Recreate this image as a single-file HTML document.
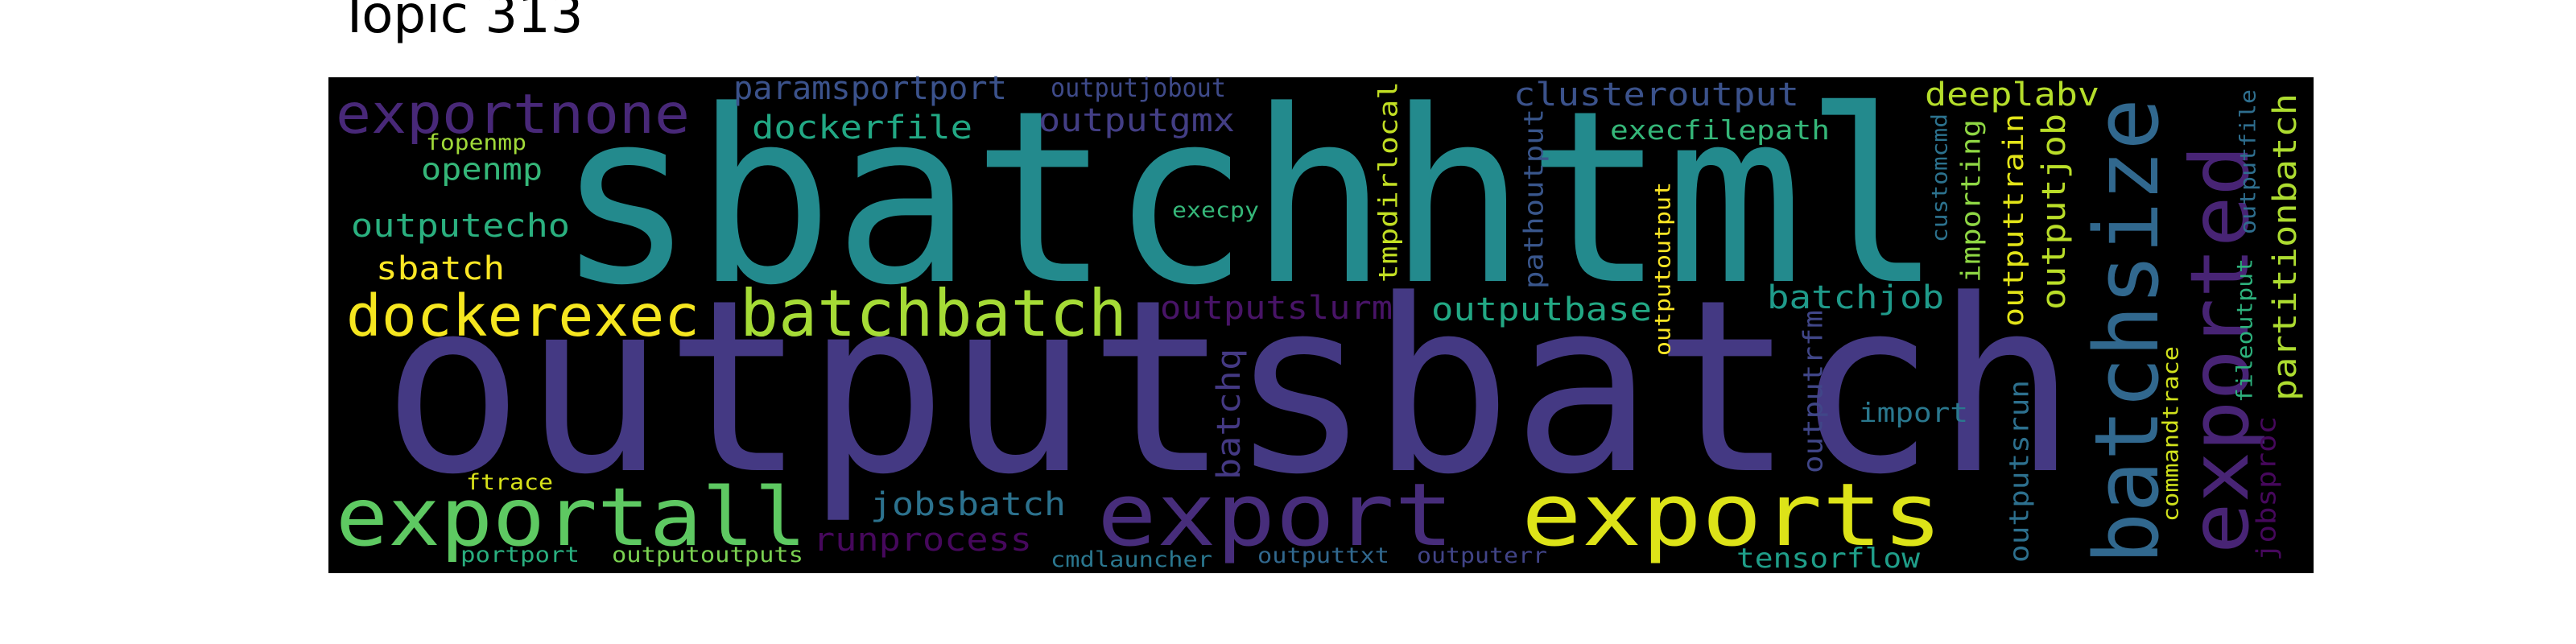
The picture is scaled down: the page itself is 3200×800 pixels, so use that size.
<!DOCTYPE html>
<html><head><meta charset="utf-8">
<style>
html,body{margin:0;padding:0;background:#fff;width:3200px;height:800px;overflow:hidden}
svg text{font-family:"DejaVu Sans Mono","Liberation Mono",monospace}
</style></head>
<body>
<svg id="chart" width="3200" height="800" viewBox="0 0 3200 800" xmlns="http://www.w3.org/2000/svg">
<text x="421" y="40" font-size="64" style="font-family:'DejaVu Sans','Liberation Sans',sans-serif" fill="#000">Topic 313</text>
<rect x="408" y="96" width="2466" height="616" fill="#000"/>
<g id="words"></g>
</svg>
<script>
// word data: text, color, orientation (h/v)
const words = ["sbatchhtml","outputsbatch","exportnone","dockerexec","batchbatch","exportall","export","exports","paramsportport","outputjobout","dockerfile","outputgmx","fopenmp","openmp","outputecho","execpy","sbatch","outputslurm","ftrace","jobsbatch","runprocess","portport","outputoutputs","cmdlauncher","outputtxt","outputerr","tensorflow","batchjob","outputbase","import","clusteroutput","execfilepath","deeplabv","tmpdirlocal","pathoutput","outputoutput","outputrfm","customcmd","importing","outputtrain","outputjob","outputsrun","commandtrace","batchsize","exported","outputfile","fileoutput","partitionbatch","jobsproc","batchq"];
const colors = ["#238a8d","#443983","#482878","#f5e61f","#a5db36","#5ec962","#472d7b","#dde318","#3b528b","#3e4a89","#22a884","#433e85","#a0da39","#35b779","#2ab07f","#35b779","#fde725","#481467","#d8e219","#2c728e","#46085c","#29af7f","#7ad151","#2a768e","#31688e","#414487","#1f9e89","#1f9a8a","#22a884","#2a788e","#3b528b","#35b779","#b5de2b","#c2df23","#39568c","#fde725","#404688","#2c728e","#8fd744","#e2e418","#bade28","#2d708e","#d0e11c","#31688e","#482475","#2e6e8e","#2db27d","#addc30","#46085c","#443983"];
const orient = ["h","h","h","h","h","h","h","h","h","h","h","h","h","h","h","h","h","h","h","h","h","h","h","h","h","h","h","h","h","h","h","h","h","v","v","v","v","v","v","v","v","v","v","v","v","v","v","v","v","v"];
// layout (pixels): x-left / baseline-y for horizontal, left-x / bottom-y for vertical; extent; font size
const posA = [691,475,417,430,919,417,1363,1890,911,1305,934,1290,529,523,436,1456,467,1441,579,1081,1010,572,760,1305,1562,1760,2157,2195,1778,2309,1880,2000,2391,1710,1890,2053,2237,2397,2433,2485,2533,2493,2684,2592,2712,2780,2776,2820,2800,1508];
const posB = [349,584,165,417,417,677,677,677,123,120,172,163,186,223,294,270,347,396,608,640,684,698,698,704,699,699,705,383,398,524,131,173,131,351,359,442,588,301,351,406,385,699,648,701,688,291,500,498,697,596];
const extent = [1722,2105,440,439,481,585,443,523,340,218,274,244,125,151,272,108,160,289,108,243,272,148,238,201,164,162,228,220,274,136,355,273,217,250,224,216,203,160,203,265,244,227,218,579,508,180,179,382,180,163];
const fsize = [297,297,68,71,80,100,108,108,40,32,40,40,27,37,40,27,40,40,27,40,40,27,27,27,27,27,34,40,40,33,40,33,40,32,33,27,33,27,33,35,40,33,27,110,100,27,27,40,33,40];
const g = document.getElementById('words');
const NS = 'http://www.w3.org/2000/svg';
for (let i = 0; i < words.length; i++) {
  const t = document.createElementNS(NS, 'text');
  
  
  const fs = fsize[i];
  t.setAttribute('font-size', fs);
  t.setAttribute('fill', colors[i]);
  t.setAttribute('textLength', extent[i]);
  t.setAttribute('lengthAdjust', 'spacingAndGlyphs');
  if (orient[i] === 'h') {
    t.setAttribute('x', posA[i]);
    t.setAttribute('y', posB[i]);
  } else {
    const bx = posA[i] + 0.8 * fs;
    const by = posB[i];
    t.setAttribute('x', bx);
    t.setAttribute('y', by);
    t.setAttribute('transform', 'rotate(-90 ' + bx + ' ' + by + ')');
  }
  t.textContent = words[i];
  g.appendChild(t);
}
</script>
</body></html>
